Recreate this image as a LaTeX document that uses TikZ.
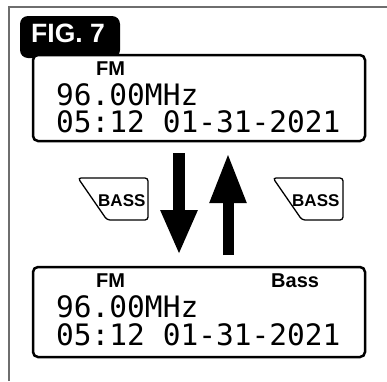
\documentclass[tikz,border=0pt]{standalone}
\usepackage{fontspec}
\setmainfont{Liberation Sans}
\newfontfamily\lcdfont{DejaVu Sans Mono}
\usetikzlibrary{arrows.meta}
\definecolor{framegray}{RGB}{110,110,110}
\tikzset{
  lcdbox/.style={draw=black, line width=2.5pt, rounded corners=5pt},
  lcdtext/.style={anchor=base west, inner sep=0pt, font=\lcdfont\fontsize{29.5}{29.5}\selectfont},
  labeltext/.style={anchor=base west, inner sep=0pt, font=\bfseries\fontsize{20}{20}\selectfont},
  btnbox/.style={draw=black, line width=1.3pt, rounded corners=3pt, fill=white},
  btntext/.style={anchor=base west, inner sep=0pt, font=\bfseries\fontsize{17}{17}\selectfont},
  bigarrow/.style={line width=12pt, draw=black, -{Triangle[length=#1, width=34pt]}},
}
\begin{document}
\begin{tikzpicture}[x=1pt,y=-1pt]
\useasboundingbox (0,0) rectangle (387,381);
% outer frame (top and left only)
\draw[framegray, line width=1.5pt] (9,381) -- (9,7) -- (387,7);
% FIG tab
\fill[black, rounded corners=8pt] (20,16) rectangle (120,58);
\node[anchor=base west, inner sep=0pt, text=white, font=\bfseries\fontsize{26.5}{26.5}\selectfont] (fig) at (31,42.5) {FIG. 7};
% top display
\draw[lcdbox, fill=white] (33,55) rectangle (365,141);
\node[labeltext] (fm1) at (96,75.5) {FM};
\node[lcdtext] (f1) at (56,105) {96.00MHz};
\node[lcdtext] (t1) at (56,132) {05:12 01-31-2021};
% bottom display
\draw[lcdbox] (33,267) rectangle (365,357);
\node[labeltext] (fm2) at (96,287.5) {FM};
\node[labeltext] (bass) at (271,287.5) {Bass};
\node[lcdtext] (f2) at (56,317) {96.00MHz};
\node[lcdtext] (t2) at (56,345) {05:12 01-31-2021};
% arrows
\coordinate (dstart) at (179,153);
\coordinate (dend) at (179,255);
\coordinate (ustart) at (228,255);
\coordinate (uend) at (228,153);
\draw[bigarrow=45pt] (dstart) -- (dend);
\draw[bigarrow=50pt, line width=11pt] (ustart) -- (uend);
% buttons
\draw[btnbox] (78,178) -- (148,178) -- (148,220) -- (107,220) -- cycle;
\node[btntext] (b1) at (98,206) {BASS};
\draw[btnbox] (273,178) -- (343,178) -- (343,220) -- (302,220) -- cycle;
\node[btntext] (b2) at (292,206) {BASS};
\end{tikzpicture}
\end{document}
